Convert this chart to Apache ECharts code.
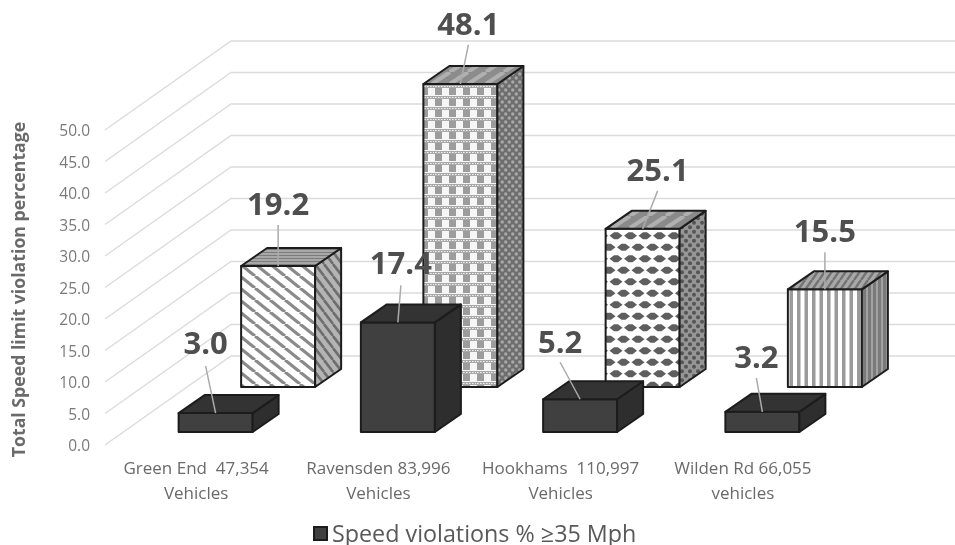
<!DOCTYPE html>
<html>
<head>
<meta charset="utf-8">
<style>html,body{margin:0;padding:0;background:#fff}#c{width:955px;height:545px}</style>
<script src="https://cdn.jsdelivr.net/npm/echarts@6/dist/echarts.min.js"></script>
</head>
<body>
<div id="c"></div>
<script>
var categories = ['Green End  47,354\nVehicles', 'Ravensden 83,996\nVehicles', 'Hookhams  110,997\nVehicles', 'Wilden Rd 66,055\nvehicles'];
var speedViolations35 = [3.0, 17.4, 5.2, 3.2];
var totalViolations = [19.2, 48.1, 25.1, 15.5];
var yTicks = [0, 5, 10, 15, 20, 25, 30, 35, 40, 45, 50];

// projection styling (pixels)
var WALL = [126, -89], DEPTH = [26, -18], HALF = 37;
var FRONT_ROW = [19.5, -13], BACK_ROW = [82, -58];
// label centre dx, label centre dy, leader start dy, relative to the centre of the front face's top edge
var frontLabelPos = [[-10, -68, -47], [3, -57, -37], [-20, -55, -37], [-6, -53, -34]];
var backLabelPos = [[0, -60, -41], [8, -58, -39], [15, -57, -38], [0, -56, -37]];

function tile(w, h, bg, draw) {
  var c = document.createElement('canvas');
  c.width = w; c.height = h;
  var g = c.getContext('2d');
  g.fillStyle = bg; g.fillRect(0, 0, w, h);
  draw(g, w, h);
  return { image: c, repeat: 'repeat' };
}
function diag(w, h, bg, fg, lw, up) {
  return tile(w, h, bg, function (g) {
    g.strokeStyle = fg; g.lineWidth = lw;
    for (var i = -1; i <= 1; i++) {
      g.beginPath();
      if (up) { g.moveTo(i * w, h); g.lineTo(i * w + w, 0); }
      else { g.moveTo(i * w, 0); g.lineTo(i * w + w, h); }
      g.stroke();
    }
  });
}
function dots(w, h, bg, fg, r) {
  return tile(w, h, bg, function (g) {
    g.fillStyle = fg;
    [[w / 4, h / 4], [3 * w / 4, 3 * h / 4]].forEach(function (p) {
      g.beginPath(); g.arc(p[0], p[1], r, 0, 7); g.fill();
    });
  });
}
var patterns = [
  { // diagonal stripes
    front: diag(15, 12, '#ffffff', '#8a8a8a', 3.2),
    side: diag(9, 12, '#b4b4b4', '#6e6e6e', 2.6),
    top: tile(4, 3, '#a8a8a8', function (g) { g.fillStyle = '#7c7c7c'; g.fillRect(0, 0, 4, 1); })
  },
  { // plaid
    front: tile(14, 11, '#f6f6f6', function (g) {
      g.fillStyle = '#9c9c9c'; g.fillRect(1, 0, 7, 7);
      g.fillStyle = '#a8a8a8'; g.fillRect(0, 8, 14, 3);
      g.fillStyle = '#f0f0f0';
      for (var x = 1; x < 14; x += 3) g.fillRect(x, 9, 1.6, 1);
    }),
    side: dots(7, 8, '#6e6e6e', '#a8a8a8', 1.7),
    top: diag(18, 12, '#8c8c8c', '#b0b0b0', 4, true)
  },
  { // staggered lenses
    front: tile(29, 23, '#ffffff', function (g) {
      g.fillStyle = '#5e5e5e';
      [[7, 5.75], [21.5, 5.75], [0, 17.25], [14.5, 17.25], [29, 17.25]].forEach(function (p) {
        g.beginPath();
        g.moveTo(p[0] - 6.5, p[1]);
        g.lineTo(p[0] - 2, p[1] - 3.4);
        g.lineTo(p[0] + 2, p[1] - 3.4);
        g.lineTo(p[0] + 6.5, p[1]);
        g.lineTo(p[0] + 2, p[1] + 3.4);
        g.lineTo(p[0] - 2, p[1] + 3.4);
        g.closePath(); g.fill();
      });
    }),
    side: dots(8, 9, '#969696', '#555555', 2),
    top: diag(18, 12, '#8a8a8a', '#b0b0b0', 4, true)
  },
  { // vertical stripes
    front: tile(15, 4, '#ffffff', function (g) {
      g.fillStyle = '#9a9a9a'; g.fillRect(2, 0, 3.5, 4); g.fillRect(9.5, 0, 3.5, 4);
    }),
    side: tile(5, 4, '#7a7a7a', function (g) { g.fillStyle = '#a2a2a2'; g.fillRect(1, 0, 2, 4); }),
    top: diag(7, 10, '#a8a8a8', '#737373', 2.4, true)
  }
];
var darkFaces = { front: '#404040', top: '#333333', side: '#2e2e2e' };

function poly(pts, fill, stroke, lw) {
  return { type: 'polygon', shape: { points: pts }, style: { fill: fill, stroke: stroke, lineWidth: lw, lineJoin: 'round' } };
}
function barItem(row, faces, labelPos, lw) {
  return function (params, api) {
    var i = params.dataIndex, v = api.value(1);
    var b = api.coord([api.value(0), 0]), t = api.coord([api.value(0), v]);
    var xl = b[0] + row[0] - HALF, xr = b[0] + row[0] + HALF;
    var yb = b[1] + row[1], yt = t[1] + row[1];
    var dx = DEPTH[0], dy = DEPTH[1], f = faces(i), stroke = '#1c1c1c';
    var lp = labelPos[i], cx = (xl + xr) / 2;
    return {
      type: 'group',
      children: [
        poly([[xl, yb], [xr, yb], [xr, yt], [xl, yt]], f.front, stroke, lw),
        poly([[xr, yb], [xr + dx, yb + dy], [xr + dx, yt + dy], [xr, yt]], f.side, stroke, lw),
        poly([[xl, yt], [xr, yt], [xr + dx, yt + dy], [xl + dx, yt + dy]], f.top, stroke, lw),
        { type: 'line', shape: { x1: cx + lp[0], y1: yt + lp[2], x2: cx, y2: yt }, style: { stroke: '#ababab', lineWidth: 1.5 } },
        { type: 'text', style: { text: v.toFixed(1), x: cx + lp[0], y: yt + lp[1], textAlign: 'center', textVerticalAlign: 'middle', fill: '#4f4f4f', font: 'bold 31px "Open Sans"' } }
      ]
    };
  };
}
function pairs(arr) { return arr.map(function (v, i) { return [i, v]; }); }

var chart = echarts.init(document.getElementById('c'), null, { renderer: 'canvas' });
chart.setOption({
  animation: false,
  backgroundColor: '#ffffff',
  grid: { left: 105, top: 130, width: 729, height: 315, containLabel: false, outerBoundsMode: 'none' },
  legend: {
    data: ['Speed violations % \u226535 Mph'],
    selectedMode: false,
    left: 313, top: 524, padding: 0,
    itemWidth: 13, itemHeight: 13, itemGap: 7,
    icon: 'rect',
    formatter: function (n) { return '{t|' + n + '}'; },
    textStyle: {
      fontFamily: 'Open Sans', fontSize: 23.3, color: '#595959',
      rich: { t: { fontFamily: 'Open Sans', fontSize: 23.3, color: '#595959', padding: [4, 0, 0, 0] } }
    }
  },
  xAxis: {
    type: 'category',
    data: categories,
    axisLine: { show: false }, axisTick: { show: false }, splitLine: { show: false },
    axisLabel: { interval: 0, margin: 12, fontFamily: 'Open Sans', fontSize: 17, lineHeight: 25, color: '#6a6a6a' }
  },
  yAxis: {
    type: 'value', min: 0, max: 50, interval: 5,
    name: 'Total Speed limit violation percentage',
    nameLocation: 'middle', nameRotate: 90, nameGap: 76,
    nameTextStyle: { fontFamily: 'Open Sans', fontWeight: 'bold', fontSize: 17.7, color: '#6a6a6a', padding: [0, 4, 0, 0] },
    axisLine: { show: false }, axisTick: { show: false }, splitLine: { show: false },
    axisLabel: {
      margin: 15, fontFamily: 'Open Sans', fontSize: 15.5, color: '#7a7a7a',
      formatter: function (v) { return '{v|' + v.toFixed(1) + '}'; },
      rich: { v: { fontFamily: 'Open Sans', fontSize: 15.5, color: '#7a7a7a', padding: [4, 0, 0, 0] } }
    }
  },
  series: [
    {
      type: 'custom', name: 'Grid walls', silent: true, z: 1, clip: false,
      data: yTicks.map(function (t) { return [0, t]; }),
      encode: { x: 0, y: 1 },
      renderItem: function (params, api) {
        var y = api.coord([0, api.value(1)])[1], cs = params.coordSys;
        return {
          type: 'polyline',
          shape: { points: [[cs.x, y], [cs.x + WALL[0], y + WALL[1]], [cs.x + cs.width + WALL[0], y + WALL[1]]] },
          style: { fill: 'none', stroke: '#dcdcdc', lineWidth: 1.5 }
        };
      }
    },
    {
      type: 'custom', name: 'Total violations %', z: 2, clip: false,
      data: pairs(totalViolations),
      encode: { x: 0, y: 1 },
      renderItem: barItem(BACK_ROW, function (i) { return patterns[i]; }, backLabelPos, 2)
    },
    {
      type: 'custom', name: 'Speed violations % \u226535 Mph', z: 3, clip: false,
      itemStyle: { color: '#404040', borderColor: '#1c1c1c', borderWidth: 1.5 },
      data: pairs(speedViolations35),
      encode: { x: 0, y: 1 },
      renderItem: barItem(FRONT_ROW, function () { return darkFaces; }, frontLabelPos, 2)
    }
  ]
});
</script>
</body>
</html>
